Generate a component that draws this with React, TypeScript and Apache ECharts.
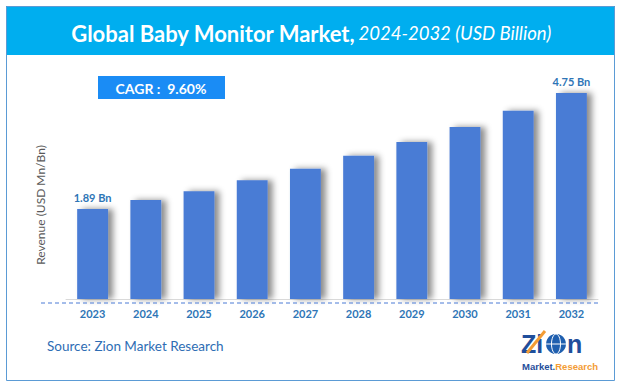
import React, { useEffect, useRef } from "react";
import * as echarts from "echarts";

const YEARS = ["2023", "2024", "2025", "2026", "2027", "2028", "2029", "2030", "2031", "2032"];
const REVENUE = [1.89, 2.11, 2.33, 2.6, 2.88, 3.2, 3.54, 3.91, 4.31, 4.75];
const BAR_LABELS = ["1.89 Bn", "", "", "", "", "", "", "", "", "4.75 Bn"];
const TITLE_MAIN = "Global Baby Monitor Market,";
const TITLE_SUB = "2024-2032 (USD Billion)";
const CAGR_TEXT = "CAGR :  9.60%";
const Y_NAME = "Revenue (USD Mn/Bn)";
const SOURCE = "Source: Zion Market Research";
const Y_MIN = -0.33;
const Y_MAX = 5.5;

const FONT = "Lato, 'Open Sans', sans-serif";

export default function App() {
  const ref = useRef<HTMLDivElement>(null);
  useEffect(() => {
    if (!ref.current) return;
    const chart = echarts.init(ref.current, null, { renderer: "svg" });
    const option: any = {
      animation: false,
      backgroundColor: "#ffffff",
      grid: { left: 66, right: 24, top: 62.6, bottom: 91, containLabel: false },
      xAxis: {
        type: "category",
        data: YEARS,
        axisLine: { show: true, onZero: false, lineStyle: { color: "#D9D9D9", width: 1 } },
        axisTick: { show: false },
        axisLabel: { color: "#2E75B6", fontWeight: "bold", fontSize: 11, fontFamily: FONT, margin: 9 },
      },
      yAxis: {
        type: "value",
        min: Y_MIN,
        max: Y_MAX,
        show: false,
      },
      series: [
        {
          type: "custom",
          data: REVENUE.map((v, i) => [i, v]),
          renderItem: (params: any, api: any) => {
            const x = api.value(0);
            const v = api.value(1);
            const top = api.coord([x, v]);
            const bot = api.coord([x, Y_MIN]);
            const w = api.size([1, 0])[0] * 0.58;
            const lbl = BAR_LABELS[params.dataIndex];
            const el: any = {
              type: "rect",
              shape: { x: top[0] - w / 2, y: top[1], width: w, height: bot[1] - top[1] },
              style: {
                fill: "#4A7BD5",
                shadowBlur: 6,
                shadowOffsetX: 5,
                shadowOffsetY: 0,
                shadowColor: "rgba(0,0,0,0.45)",
              },
            };
            if (lbl) {
              el.textContent = {
                style: {
                  text: lbl,
                  fill: "#2E75B6",
                  font: `bold 11px ${FONT}`,
                },
              };
              el.textConfig = { position: "top", distance: 6 };
            }
            return el;
          },
        },
      ],
      graphic: [
        {
          type: "rect",
          shape: { x: 6, y: 6, width: 609, height: 49 },
          style: { fill: "#00AEEF" },
          z: 1,
        },
        {
          type: "rect",
          shape: { x: 6.5, y: 6.5, width: 608, height: 374 },
          style: { fill: "none", stroke: "#5B9BD5", lineWidth: 1 },
          z: 2,
        },
        {
          type: "text",
          x: 311,
          y: 33,
          style: {
            text: `{b|${TITLE_MAIN}} {i|${TITLE_SUB}}`,
            align: "center",
            verticalAlign: "middle",
            fill: "#ffffff",
            rich: {
              b: { fontFamily: FONT, fontWeight: "bold", fontSize: 22, fill: "#ffffff" },
              i: { fontFamily: FONT, fontStyle: "italic", fontSize: 18.5, fill: "#ffffff" },
            },
          },
          z: 3,
        },
        {
          type: "rect",
          shape: { x: 98, y: 76, width: 127, height: 23 },
          style: { fill: "#1A8CF5" },
          z: 3,
        },
        {
          type: "text",
          x: 161,
          y: 88,
          style: {
            text: CAGR_TEXT,
            align: "center",
            verticalAlign: "middle",
            fill: "#ffffff",
            font: `bold 14px ${FONT}`,
          },
          z: 4,
        },
        {
          type: "line",
          shape: { x1: 41, y1: 303, x2: 600, y2: 303 },
          style: { stroke: "#4A7BD5", lineWidth: 1, lineDash: [4, 3] },
          z: 3,
        },
        {
          type: "text",
          x: 40,
          y: 205,
          rotation: Math.PI / 2,
          style: {
            text: Y_NAME,
            align: "center",
            verticalAlign: "middle",
            fill: "#595959",
            font: `12px ${FONT}`,
          },
          z: 3,
        },
        {
          type: "text",
          x: 47,
          y: 346,
          style: {
            text: SOURCE,
            align: "left",
            verticalAlign: "middle",
            fill: "#2E6DB4",
            font: `13.5px ${FONT}`,
          },
          z: 3,
        },
        {
          type: "group",
          x: 0,
          y: 0,
          z: 5,
          children: [
            {
              type: "text",
              x: 521,
              y: 344,
              style: { text: "Zi", fill: "#1F4E9B", font: `bold 25px Arial, sans-serif`, verticalAlign: "middle", align: "left" },
            },
            {
              type: "line",
              shape: { x1: 527, y1: 353, x2: 545, y2: 331 },
              style: { stroke: "#F39C34", lineWidth: 3 },
            },
            {
              type: "circle",
              shape: { cx: 556, cy: 344, r: 10 },
              style: { fill: "#1F5FAF" },
            },
            {
              type: "ellipse",
              shape: { cx: 556, cy: 344, rx: 4.5, ry: 10 },
              style: { fill: "none", stroke: "#ffffff", lineWidth: 1 },
            },
            {
              type: "line",
              shape: { x1: 546, y1: 344, x2: 566, y2: 344 },
              style: { stroke: "#ffffff", lineWidth: 1 },
            },
            {
              type: "text",
              x: 567,
              y: 344,
              style: { text: "n", fill: "#1F4E9B", font: `bold 25px Arial, sans-serif`, verticalAlign: "middle", align: "left" },
            },
            {
              type: "text",
              x: 522,
              y: 366,
              style: {
                text: "{m|Market.}{r|Research}",
                verticalAlign: "middle",
                align: "left",
                rich: {
                  m: { fill: "#1F4E9B", fontWeight: "bold", fontSize: 9.5, fontFamily: "Arial, sans-serif" },
                  r: { fill: "#F39C34", fontWeight: "bold", fontSize: 9.5, fontFamily: "Arial, sans-serif" },
                },
              },
            },
          ],
        },
      ],
    };
    chart.setOption(option);
    return () => chart.dispose();
  }, []);
  return (
    <div
      ref={ref}
      style={{ position: "fixed", left: 0, top: 0, width: 622, height: 390 }}
    />
  );
}
